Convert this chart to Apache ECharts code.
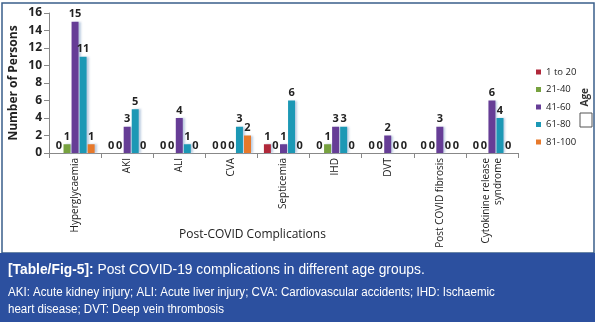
<!DOCTYPE html>
<html>
<head>
<meta charset="utf-8">
<script src="https://cdn.jsdelivr.net/npm/echarts@6/dist/echarts.min.js"></script>
<style>
html,body{margin:0;padding:0;background:#fff;}
#c{width:597px;height:327px;}
</style>
</head>
<body>
<div id="c"></div>
<script>
var categories = ['Hyperglycaemia', 'AKI', 'ALI', 'CVA', 'Septicemia', 'IHD', 'DVT', 'Post COVID fibrosis', 'Cytokinine release\nsyndrome'];
var age1to20   = [0, 0, 0, 0, 1, 0, 0, 0, 0];
var age21to40  = [1, 0, 0, 0, 0, 1, 0, 0, 0];
var age41to60  = [15, 3, 4, 0, 1, 3, 2, 3, 6];
var age61to80  = [11, 5, 1, 3, 6, 3, 0, 0, 4];
var age81to100 = [1, 0, 0, 2, 0, 0, 0, 0, 0];
var seriesNames = ['1 to 20', '21-40', '41-60', '61-80', '81-100'];
var yTicks = [0, 2, 4, 6, 8, 10, 12, 14, 16];

var colors = ['#B0283A', '#77A23F', '#663D96', '#1C98B5', '#E7792B'];
var dataSets = [age1to20, age21to40, age41to60, age61to80, age81to100];

var font = '"Open Sans", "Liberation Sans", sans-serif';
var capFont = '"Liberation Sans", Arial, sans-serif';

var series = dataSets.map(function (d, i) {
  return {
    name: seriesNames[i],
    type: 'bar',
    data: d,
    barWidth: 7,
    barGap: '15%',
    itemStyle: {
      color: colors[i],
      shadowColor: 'rgba(170,190,215,0.75)',
      shadowBlur: 2,
      shadowOffsetX: 2,
      shadowOffsetY: 0
    },
    label: {
      show: true,
      position: 'top',
      distance: 2,
      fontSize: 11,
      fontWeight: 'bold',
      color: '#222',
      fontFamily: font
    }
  };
});

var chart = echarts.init(document.getElementById('c'), null, {renderer: 'canvas'});
chart.setOption({
  animation: false,
  color: colors,
  grid: {left: 47, right: 79, top: 13, bottom: 174, containLabel: false},
  legend: {
    data: seriesNames,
    orient: 'vertical',
    left: 531,
    top: 62,
    icon: 'rect',
    itemWidth: 5,
    itemHeight: 5,
    itemGap: 7.5,
    textStyle: {fontSize: 9.5, color: '#222', fontFamily: font}
  },
  xAxis: {
    type: 'category',
    data: categories,
    axisLine: {lineStyle: {color: '#888'}},
    axisTick: {show: true, alignWithLabel: false, lineStyle: {color: '#888'}},
    axisLabel: {
      rotate: 90,
      interval: 0,
      margin: 5,
      fontSize: 10,
      color: '#222',
      fontFamily: font,
      lineHeight: 12
    },
    name: 'Post-COVID Complications',
    nameLocation: 'middle',
    nameGap: 76,
    nameMoveOverlap: false,
    nameTextStyle: {fontSize: 12, color: '#222', fontFamily: font, padding: [0, 62, 0, 0]}
  },
  yAxis: {
    type: 'value',
    min: yTicks[0],
    max: yTicks[yTicks.length - 1],
    interval: 2,
    axisLine: {show: true, lineStyle: {color: '#888'}},
    axisTick: {show: true, lineStyle: {color: '#888'}},
    splitLine: {show: false},
    axisLabel: {fontSize: 12, fontWeight: 'bold', color: '#222', fontFamily: font, margin: 7},
    name: 'Number of Persons',
    nameLocation: 'middle',
    nameGap: 29,
    nameMoveOverlap: false,
    nameTextStyle: {fontSize: 12, fontWeight: 'bold', color: '#222', fontFamily: font}
  },
  series: series,
  graphic: [
    {type: 'rect', shape: {x: 2, y: 3, width: 592, height: 250}, style: {fill: 'none', stroke: '#3A5F8A', lineWidth: 1.5}, z: 0},
    {type: 'rect', shape: {x: 0, y: 253, width: 595, height: 69}, style: {fill: '#2C509F'}, z: 1},
    {type: 'text', left: 580, top: 88, rotation: Math.PI / 2, style: {text: 'Age', fontSize: 10, fontWeight: 'bold', fill: '#333', fontFamily: font}, z: 2},
    {type: 'rect', shape: {x: 580, y: 113, width: 12, height: 14}, style: {fill: '#fff', stroke: '#555', lineWidth: 1}, z: 2},
    {type: 'text', x: 8, y: 262, scaleX: 0.92, scaleY: 1, style: {
      text: '{b|[Table/Fig-5]:} Post COVID-19 complications in different age groups.',
      rich: {b: {fontWeight: 'bold', fontSize: 15, fill: '#fff', fontFamily: capFont}},
      fontSize: 15, fill: '#fff', fontFamily: capFont}, z: 3},
    {type: 'text', x: 8, y: 284, scaleX: 0.925, scaleY: 1, style: {
      text: 'AKI: Acute kidney injury; ALI: Acute liver injury; CVA: Cardiovascular accidents; IHD: Ischaemic\nheart disease; DVT: Deep vein thrombosis',
      fontSize: 12.5, lineHeight: 17, fill: '#fff', fontFamily: capFont}, z: 3}
  ]
});
</script>
</body>
</html>
